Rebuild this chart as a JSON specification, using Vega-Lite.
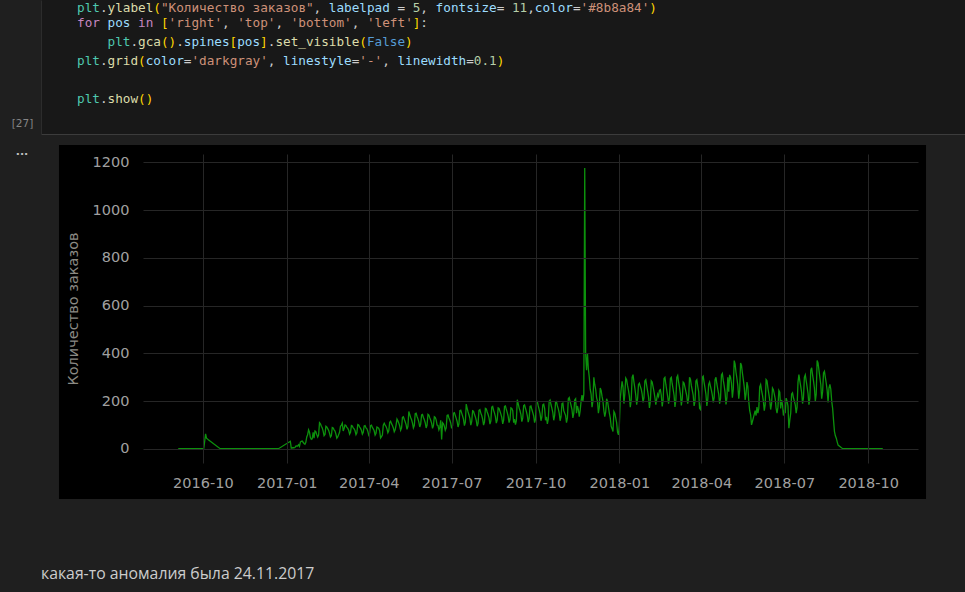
{
"$schema": "https://vega.github.io/schema/vega-lite/v6.json",
"background": "#1f1f1f",
"padding": {"left": 0, "top": 0, "right": 0, "bottom": 10},
"spacing": 0,
"config": {"view": {"stroke": null}, "font": "DejaVu Sans"},
"title": {"text": "какая-то аномалия была 24.11.2017", "orient": "bottom", "anchor": "start", "frame": "bounds", "dx": 41, "offset": 68, "font": "Open Sans", "fontSize": 15.8, "fontWeight": "normal", "color": "#cccccc"},
"vconcat": [
{
 "concat": [
  {
   "width": 41, "height": 144,
   "view": {"fill": "#1f1f1f", "stroke": null},
   "data": {"values": [{"label": "[27]", "line": 6.3}]},
   "mark": {"type": "text", "font": "DejaVu Sans", "fontSize": 10.5, "color": "#858585", "baseline": "middle", "align": "center", "dx": 2},
   "encoding": {
    "text": {"field": "label"},
    "y": {"field": "line", "type": "quantitative", "scale": {"domain": [-0.2368, 7.3421], "reverse": true, "nice": false, "zero": false}, "axis": null}
   }
  },
  {
   "width": 924, "height": 134,
   "view": {"fill": "#181818", "stroke": null},
   "data": {"values": [
    {"l":0.19,"c":0,"t":"plt","k":"mod"},{"l":0.19,"c":3,"t":".","k":"punc"},{"l":0.19,"c":4,"t":"ylabel","k":"fn"},{"l":0.19,"c":10,"t":"(","k":"br"},{"l":0.19,"c":11,"t":"\"Количество заказов\"","k":"str"},{"l":0.19,"c":31,"t":",","k":"punc"},{"l":0.19,"c":33,"t":"labelpad","k":"param"},{"l":0.19,"c":42,"t":"=","k":"punc"},{"l":0.19,"c":44,"t":"5","k":"num"},{"l":0.19,"c":45,"t":",","k":"punc"},{"l":0.19,"c":47,"t":"fontsize","k":"param"},{"l":0.19,"c":55,"t":"=","k":"punc"},{"l":0.19,"c":57,"t":"11","k":"num"},{"l":0.19,"c":59,"t":",","k":"punc"},{"l":0.19,"c":60,"t":"color","k":"param"},{"l":0.19,"c":65,"t":"=","k":"punc"},{"l":0.19,"c":66,"t":"'#8b8a84'","k":"str"},{"l":0.19,"c":75,"t":")","k":"br"},
    {"l":1,"c":0,"t":"for","k":"kw"},{"l":1,"c":4,"t":"pos","k":"var"},{"l":1,"c":8,"t":"in","k":"kw"},{"l":1,"c":11,"t":"[","k":"br"},{"l":1,"c":12,"t":"'right'","k":"str"},{"l":1,"c":19,"t":",","k":"punc"},{"l":1,"c":21,"t":"'top'","k":"str"},{"l":1,"c":26,"t":",","k":"punc"},{"l":1,"c":28,"t":"'bottom'","k":"str"},{"l":1,"c":36,"t":",","k":"punc"},{"l":1,"c":38,"t":"'left'","k":"str"},{"l":1,"c":44,"t":"]","k":"br"},{"l":1,"c":45,"t":":","k":"punc"},
    {"l":2,"c":4,"t":"plt","k":"mod"},{"l":2,"c":7,"t":".","k":"punc"},{"l":2,"c":8,"t":"gca","k":"fn"},{"l":2,"c":11,"t":"()","k":"br"},{"l":2,"c":13,"t":".","k":"punc"},{"l":2,"c":14,"t":"spines","k":"var"},{"l":2,"c":20,"t":"[","k":"br"},{"l":2,"c":21,"t":"pos","k":"var"},{"l":2,"c":24,"t":"]","k":"br"},{"l":2,"c":25,"t":".","k":"punc"},{"l":2,"c":26,"t":"set_visible","k":"fn"},{"l":2,"c":37,"t":"(","k":"br"},{"l":2,"c":38,"t":"False","k":"const"},{"l":2,"c":43,"t":")","k":"br"},
    {"l":3,"c":0,"t":"plt","k":"mod"},{"l":3,"c":3,"t":".","k":"punc"},{"l":3,"c":4,"t":"grid","k":"fn"},{"l":3,"c":8,"t":"(","k":"br"},{"l":3,"c":9,"t":"color","k":"param"},{"l":3,"c":14,"t":"=","k":"punc"},{"l":3,"c":15,"t":"'darkgray'","k":"str"},{"l":3,"c":25,"t":",","k":"punc"},{"l":3,"c":27,"t":"linestyle","k":"param"},{"l":3,"c":36,"t":"=","k":"punc"},{"l":3,"c":37,"t":"'-'","k":"str"},{"l":3,"c":40,"t":",","k":"punc"},{"l":3,"c":42,"t":"linewidth","k":"param"},{"l":3,"c":51,"t":"=","k":"punc"},{"l":3,"c":52,"t":"0.1","k":"num"},{"l":3,"c":55,"t":")","k":"br"},
    {"l":5,"c":0,"t":"plt","k":"mod"},{"l":5,"c":3,"t":".","k":"punc"},{"l":5,"c":4,"t":"show","k":"fn"},{"l":5,"c":8,"t":"()","k":"br"}
   ]},
   "mark": {"type": "text", "font": "DejaVu Sans Mono", "fontSize": 12.7, "align": "left", "baseline": "middle"},
   "encoding": {
    "x": {"field": "c", "type": "quantitative", "scale": {"domain": [-4.7182, 116.3827], "nice": false, "zero": false}, "axis": {"orient": "bottom", "domain": true, "domainColor": "#3c3c3c", "labels": false, "ticks": false, "grid": false, "title": null}},
    "y": {"field": "l", "type": "quantitative", "scale": {"domain": [-0.2368, 6.8158], "reverse": true, "nice": false, "zero": false}, "axis": {"orient": "left", "domain": true, "domainColor": "#2c2c2c", "labels": false, "ticks": false, "grid": false, "title": null}},
    "text": {"field": "t"},
    "color": {"field": "k", "type": "nominal", "legend": null, "scale": {"domain": ["mod","fn","punc","br","str","param","num","kw","var","const"], "range": ["#4ec9b0","#dcdcaa","#cccccc","#ffd700","#ce9178","#9cdcfe","#b5cea8","#c586c0","#9cdcfe","#569cd6"]}}
   }
  }
 ],
 "columns": 2, "align": "none", "spacing": 0
},
{
 "concat": [
  {
   "width": 44, "height": 1,
   "view": {"stroke": null},
   "data": {"values": [{"t": "..."}]},
   "mark": {"type": "text", "font": "DejaVu Sans", "fontSize": 11, "fontWeight": "bold", "color": "#c0c0c0", "align": "center", "baseline": "alphabetic"},
   "encoding": {"text": {"field": "t"}}
  },
  {
   "width": 775, "height": 309,
   "view": {"fill": "#000000", "stroke": null},
   "layer": [
    {
     "data": {"values": [{"part": "figure"}]},
     "mark": {"type": "rect", "color": "#000000"},
     "encoding": {
      "x": {"datum": {"year": 2016, "month": 4, "date": 26, "hours": 4, "utc": true}, "type": "temporal"},
      "x2": {"datum": {"year": 2018, "month": 12, "date": 3, "hours": 11, "utc": true}},
      "y": {"datum": 1272.5, "type": "quantitative"},
      "y2": {"datum": -209.5}
     }
    },
    {
     "data": {"values": [
{"d":"2016-09-04","n":1},{"d":"2016-09-05","n":1},{"d":"2016-09-13","n":1},{"d":"2016-09-15","n":1},{"d":"2016-10-02","n":1},{"d":"2016-10-04","n":63},{"d":"2016-10-05","n":45},{"d":"2016-10-06","n":42},{"d":"2016-10-07","n":38},{"d":"2016-10-20","n":1},{"d":"2016-12-23","n":1},
{"d":"2017-01-05","n":32},{"d":"2017-01-06","n":4},{"d":"2017-01-07","n":4},{"d":"2017-01-08","n":6},
{"d":"2017-01-09","n":5},{"d":"2017-01-10","n":6},{"d":"2017-01-11","n":12},{"d":"2017-01-12","n":13},{"d":"2017-01-13","n":12},{"d":"2017-01-14","n":18},{"d":"2017-01-15","n":11},
{"d":"2017-01-16","n":29},{"d":"2017-01-17","n":32},{"d":"2017-01-18","n":33},{"d":"2017-01-19","n":28},{"d":"2017-01-20","n":23},{"d":"2017-01-21","n":20},{"d":"2017-01-22","n":28},
{"d":"2017-01-23","n":50},{"d":"2017-01-24","n":60},{"d":"2017-01-25","n":80},{"d":"2017-01-26","n":70},{"d":"2017-01-27","n":48},{"d":"2017-01-28","n":40},{"d":"2017-01-29","n":42},
{"d":"2017-01-30","n":70},{"d":"2017-01-31","n":45},{"d":"2017-02-01","n":75},{"d":"2017-02-02","n":72},{"d":"2017-02-03","n":60},{"d":"2017-02-04","n":50},{"d":"2017-02-05","n":58},
{"d":"2017-02-06","n":110},{"d":"2017-02-07","n":105},{"d":"2017-02-08","n":95},{"d":"2017-02-09","n":88},{"d":"2017-02-10","n":75},{"d":"2017-02-11","n":55},{"d":"2017-02-12","n":60},
{"d":"2017-02-13","n":95},{"d":"2017-02-14","n":92},{"d":"2017-02-15","n":85},{"d":"2017-02-16","n":78},{"d":"2017-02-17","n":65},{"d":"2017-02-18","n":50},{"d":"2017-02-19","n":55},
{"d":"2017-02-20","n":90},{"d":"2017-02-21","n":88},{"d":"2017-02-22","n":80},{"d":"2017-02-23","n":75},{"d":"2017-02-24","n":62},{"d":"2017-02-25","n":45},{"d":"2017-02-26","n":50},
{"d":"2017-02-27","n":60},{"d":"2017-02-28","n":70},{"d":"2017-03-01","n":95},{"d":"2017-03-02","n":100},{"d":"2017-03-03","n":108},{"d":"2017-03-04","n":75},{"d":"2017-03-05","n":85},
{"d":"2017-03-06","n":100},{"d":"2017-03-07","n":98},{"d":"2017-03-08","n":90},{"d":"2017-03-09","n":86},{"d":"2017-03-10","n":78},{"d":"2017-03-11","n":62},{"d":"2017-03-12","n":70},
{"d":"2017-03-13","n":98},{"d":"2017-03-14","n":96},{"d":"2017-03-15","n":88},{"d":"2017-03-16","n":84},{"d":"2017-03-17","n":76},{"d":"2017-03-18","n":60},{"d":"2017-03-19","n":68},
{"d":"2017-03-20","n":102},{"d":"2017-03-21","n":100},{"d":"2017-03-22","n":92},{"d":"2017-03-23","n":86},{"d":"2017-03-24","n":78},{"d":"2017-03-25","n":62},{"d":"2017-03-26","n":70},
{"d":"2017-03-27","n":96},{"d":"2017-03-28","n":98},{"d":"2017-03-29","n":88},{"d":"2017-03-30","n":84},{"d":"2017-03-31","n":74},{"d":"2017-04-01","n":58},{"d":"2017-04-02","n":66},
{"d":"2017-04-03","n":98},{"d":"2017-04-04","n":100},{"d":"2017-04-05","n":90},{"d":"2017-04-06","n":84},{"d":"2017-04-07","n":76},{"d":"2017-04-08","n":58},{"d":"2017-04-09","n":66},
{"d":"2017-04-10","n":92},{"d":"2017-04-11","n":90},{"d":"2017-04-12","n":86},{"d":"2017-04-13","n":76},{"d":"2017-04-14","n":46},{"d":"2017-04-15","n":52},{"d":"2017-04-16","n":58},
{"d":"2017-04-17","n":100},{"d":"2017-04-18","n":108},{"d":"2017-04-19","n":100},{"d":"2017-04-20","n":94},{"d":"2017-04-21","n":84},{"d":"2017-04-22","n":68},{"d":"2017-04-23","n":76},
{"d":"2017-04-24","n":112},{"d":"2017-04-25","n":116},{"d":"2017-04-26","n":106},{"d":"2017-04-27","n":98},{"d":"2017-04-28","n":88},{"d":"2017-04-29","n":72},{"d":"2017-04-30","n":80},
{"d":"2017-05-01","n":100},{"d":"2017-05-02","n":125},{"d":"2017-05-03","n":118},{"d":"2017-05-04","n":108},{"d":"2017-05-05","n":96},{"d":"2017-05-06","n":78},{"d":"2017-05-07","n":88},
{"d":"2017-05-08","n":132},{"d":"2017-05-09","n":135},{"d":"2017-05-10","n":124},{"d":"2017-05-11","n":114},{"d":"2017-05-12","n":102},{"d":"2017-05-13","n":82},{"d":"2017-05-14","n":94},
{"d":"2017-05-15","n":157},{"d":"2017-05-16","n":145},{"d":"2017-05-17","n":132},{"d":"2017-05-18","n":122},{"d":"2017-05-19","n":108},{"d":"2017-05-20","n":88},{"d":"2017-05-21","n":98},
{"d":"2017-05-22","n":148},{"d":"2017-05-23","n":150},{"d":"2017-05-24","n":136},{"d":"2017-05-25","n":126},{"d":"2017-05-26","n":112},{"d":"2017-05-27","n":92},{"d":"2017-05-28","n":104},
{"d":"2017-05-29","n":142},{"d":"2017-05-30","n":144},{"d":"2017-05-31","n":132},{"d":"2017-06-01","n":122},{"d":"2017-06-02","n":110},{"d":"2017-06-03","n":88},{"d":"2017-06-04","n":100},
{"d":"2017-06-05","n":145},{"d":"2017-06-06","n":142},{"d":"2017-06-07","n":130},{"d":"2017-06-08","n":120},{"d":"2017-06-09","n":108},{"d":"2017-06-10","n":86},{"d":"2017-06-11","n":98},
{"d":"2017-06-12","n":135},{"d":"2017-06-13","n":132},{"d":"2017-06-14","n":122},{"d":"2017-06-15","n":100},{"d":"2017-06-16","n":98},{"d":"2017-06-17","n":80},{"d":"2017-06-18","n":90},
{"d":"2017-06-19","n":120},{"d":"2017-06-20","n":40},{"d":"2017-06-21","n":110},{"d":"2017-06-22","n":105},{"d":"2017-06-23","n":95},{"d":"2017-06-24","n":78},{"d":"2017-06-25","n":88},
{"d":"2017-06-26","n":140},{"d":"2017-06-27","n":142},{"d":"2017-06-28","n":130},{"d":"2017-06-29","n":120},{"d":"2017-06-30","n":108},{"d":"2017-07-01","n":86},{"d":"2017-07-02","n":98},
{"d":"2017-07-03","n":150},{"d":"2017-07-04","n":152},{"d":"2017-07-05","n":140},{"d":"2017-07-06","n":128},{"d":"2017-07-07","n":115},{"d":"2017-07-08","n":92},{"d":"2017-07-09","n":105},
{"d":"2017-07-10","n":160},{"d":"2017-07-11","n":162},{"d":"2017-07-12","n":150},{"d":"2017-07-13","n":138},{"d":"2017-07-14","n":124},{"d":"2017-07-15","n":98},{"d":"2017-07-16","n":112},
{"d":"2017-07-17","n":188},{"d":"2017-07-18","n":170},{"d":"2017-07-19","n":155},{"d":"2017-07-20","n":142},{"d":"2017-07-21","n":128},{"d":"2017-07-22","n":100},{"d":"2017-07-23","n":115},
{"d":"2017-07-24","n":160},{"d":"2017-07-25","n":158},{"d":"2017-07-26","n":145},{"d":"2017-07-27","n":134},{"d":"2017-07-28","n":120},{"d":"2017-07-29","n":95},{"d":"2017-07-30","n":108},
{"d":"2017-07-31","n":162},{"d":"2017-08-01","n":165},{"d":"2017-08-02","n":150},{"d":"2017-08-03","n":140},{"d":"2017-08-04","n":125},{"d":"2017-08-05","n":100},{"d":"2017-08-06","n":112},
{"d":"2017-08-07","n":170},{"d":"2017-08-08","n":168},{"d":"2017-08-09","n":155},{"d":"2017-08-10","n":144},{"d":"2017-08-11","n":130},{"d":"2017-08-12","n":104},{"d":"2017-08-13","n":118},
{"d":"2017-08-14","n":175},{"d":"2017-08-15","n":178},{"d":"2017-08-16","n":162},{"d":"2017-08-17","n":150},{"d":"2017-08-18","n":135},{"d":"2017-08-19","n":108},{"d":"2017-08-20","n":122},
{"d":"2017-08-21","n":172},{"d":"2017-08-22","n":170},{"d":"2017-08-23","n":158},{"d":"2017-08-24","n":146},{"d":"2017-08-25","n":132},{"d":"2017-08-26","n":105},{"d":"2017-08-27","n":120},
{"d":"2017-08-28","n":178},{"d":"2017-08-29","n":180},{"d":"2017-08-30","n":165},{"d":"2017-08-31","n":152},{"d":"2017-09-01","n":136},{"d":"2017-09-02","n":110},{"d":"2017-09-03","n":124},
{"d":"2017-09-04","n":172},{"d":"2017-09-05","n":170},{"d":"2017-09-06","n":160},{"d":"2017-09-07","n":110},{"d":"2017-09-08","n":125},{"d":"2017-09-09","n":102},{"d":"2017-09-10","n":118},
{"d":"2017-09-11","n":206},{"d":"2017-09-12","n":190},{"d":"2017-09-13","n":172},{"d":"2017-09-14","n":160},{"d":"2017-09-15","n":144},{"d":"2017-09-16","n":114},{"d":"2017-09-17","n":130},
{"d":"2017-09-18","n":182},{"d":"2017-09-19","n":185},{"d":"2017-09-20","n":170},{"d":"2017-09-21","n":156},{"d":"2017-09-22","n":140},{"d":"2017-09-23","n":112},{"d":"2017-09-24","n":128},
{"d":"2017-09-25","n":178},{"d":"2017-09-26","n":180},{"d":"2017-09-27","n":165},{"d":"2017-09-28","n":152},{"d":"2017-09-29","n":138},{"d":"2017-09-30","n":110},{"d":"2017-10-01","n":125},
{"d":"2017-10-02","n":195},{"d":"2017-10-03","n":198},{"d":"2017-10-04","n":180},{"d":"2017-10-05","n":165},{"d":"2017-10-06","n":148},{"d":"2017-10-07","n":118},{"d":"2017-10-08","n":135},
{"d":"2017-10-09","n":185},{"d":"2017-10-10","n":188},{"d":"2017-10-11","n":170},{"d":"2017-10-12","n":120},{"d":"2017-10-13","n":135},{"d":"2017-10-14","n":105},{"d":"2017-10-15","n":125},
{"d":"2017-10-16","n":200},{"d":"2017-10-17","n":205},{"d":"2017-10-18","n":185},{"d":"2017-10-19","n":170},{"d":"2017-10-20","n":152},{"d":"2017-10-21","n":120},{"d":"2017-10-22","n":140},
{"d":"2017-10-23","n":195},{"d":"2017-10-24","n":198},{"d":"2017-10-25","n":180},{"d":"2017-10-26","n":168},{"d":"2017-10-27","n":150},{"d":"2017-10-28","n":118},{"d":"2017-10-29","n":135},
{"d":"2017-10-30","n":190},{"d":"2017-10-31","n":192},{"d":"2017-11-01","n":160},{"d":"2017-11-02","n":150},{"d":"2017-11-03","n":140},{"d":"2017-11-04","n":110},{"d":"2017-11-05","n":130},
{"d":"2017-11-06","n":210},{"d":"2017-11-07","n":215},{"d":"2017-11-08","n":198},{"d":"2017-11-09","n":182},{"d":"2017-11-10","n":165},{"d":"2017-11-11","n":130},{"d":"2017-11-12","n":150},
{"d":"2017-11-13","n":205},{"d":"2017-11-14","n":210},{"d":"2017-11-15","n":150},{"d":"2017-11-16","n":180},{"d":"2017-11-17","n":165},{"d":"2017-11-18","n":135},{"d":"2017-11-19","n":160},
{"d":"2017-11-20","n":200},{"d":"2017-11-21","n":225},{"d":"2017-11-22","n":200},{"d":"2017-11-23","n":230},{"d":"2017-11-24","n":1176},{"d":"2017-11-25","n":400},{"d":"2017-11-26","n":330},
{"d":"2017-11-27","n":400},{"d":"2017-11-28","n":335},{"d":"2017-11-29","n":300},{"d":"2017-11-30","n":250},{"d":"2017-12-01","n":230},{"d":"2017-12-02","n":175},{"d":"2017-12-03","n":200},
{"d":"2017-12-04","n":300},{"d":"2017-12-05","n":270},{"d":"2017-12-06","n":250},{"d":"2017-12-07","n":215},{"d":"2017-12-08","n":200},{"d":"2017-12-09","n":150},{"d":"2017-12-10","n":175},
{"d":"2017-12-11","n":255},{"d":"2017-12-12","n":245},{"d":"2017-12-13","n":220},{"d":"2017-12-14","n":200},{"d":"2017-12-15","n":160},{"d":"2017-12-16","n":135},{"d":"2017-12-17","n":155},
{"d":"2017-12-18","n":210},{"d":"2017-12-19","n":200},{"d":"2017-12-20","n":175},{"d":"2017-12-21","n":150},{"d":"2017-12-22","n":130},{"d":"2017-12-23","n":95},{"d":"2017-12-24","n":85},
{"d":"2017-12-25","n":73},{"d":"2017-12-26","n":157},{"d":"2017-12-27","n":150},{"d":"2017-12-28","n":130},{"d":"2017-12-29","n":110},{"d":"2017-12-30","n":70},{"d":"2017-12-31","n":59},
{"d":"2018-01-01","n":100},{"d":"2018-01-02","n":213},{"d":"2018-01-03","n":250},{"d":"2018-01-04","n":283},{"d":"2018-01-05","n":260},{"d":"2018-01-06","n":190},{"d":"2018-01-07","n":230},
{"d":"2018-01-08","n":297},{"d":"2018-01-09","n":290},{"d":"2018-01-10","n":265},{"d":"2018-01-11","n":245},{"d":"2018-01-12","n":220},{"d":"2018-01-13","n":175},{"d":"2018-01-14","n":205},
{"d":"2018-01-15","n":300},{"d":"2018-01-16","n":311},{"d":"2018-01-17","n":280},{"d":"2018-01-18","n":255},{"d":"2018-01-19","n":225},{"d":"2018-01-20","n":185},{"d":"2018-01-21","n":210},
{"d":"2018-01-22","n":270},{"d":"2018-01-23","n":275},{"d":"2018-01-24","n":262},{"d":"2018-01-25","n":250},{"d":"2018-01-26","n":230},{"d":"2018-01-27","n":195},{"d":"2018-01-28","n":215},
{"d":"2018-01-29","n":285},{"d":"2018-01-30","n":290},{"d":"2018-01-31","n":265},{"d":"2018-02-01","n":242},{"d":"2018-02-02","n":218},{"d":"2018-02-03","n":172},{"d":"2018-02-04","n":198},
{"d":"2018-02-05","n":285},{"d":"2018-02-06","n":280},{"d":"2018-02-07","n":260},{"d":"2018-02-08","n":240},{"d":"2018-02-09","n":215},{"d":"2018-02-10","n":185},{"d":"2018-02-11","n":210},
{"d":"2018-02-12","n":230},{"d":"2018-02-13","n":220},{"d":"2018-02-14","n":245},{"d":"2018-02-15","n":248},{"d":"2018-02-16","n":225},{"d":"2018-02-17","n":178},{"d":"2018-02-18","n":205},
{"d":"2018-02-19","n":295},{"d":"2018-02-20","n":300},{"d":"2018-02-21","n":270},{"d":"2018-02-22","n":245},{"d":"2018-02-23","n":220},{"d":"2018-02-24","n":190},{"d":"2018-02-25","n":215},
{"d":"2018-02-26","n":295},{"d":"2018-02-27","n":300},{"d":"2018-02-28","n":272},{"d":"2018-03-01","n":250},{"d":"2018-03-02","n":225},{"d":"2018-03-03","n":176},{"d":"2018-03-04","n":205},
{"d":"2018-03-05","n":300},{"d":"2018-03-06","n":308},{"d":"2018-03-07","n":280},{"d":"2018-03-08","n":258},{"d":"2018-03-09","n":230},{"d":"2018-03-10","n":182},{"d":"2018-03-11","n":210},
{"d":"2018-03-12","n":280},{"d":"2018-03-13","n":276},{"d":"2018-03-14","n":258},{"d":"2018-03-15","n":240},{"d":"2018-03-16","n":222},{"d":"2018-03-17","n":190},{"d":"2018-03-18","n":212},
{"d":"2018-03-19","n":300},{"d":"2018-03-20","n":292},{"d":"2018-03-21","n":265},{"d":"2018-03-22","n":245},{"d":"2018-03-23","n":225},{"d":"2018-03-24","n":180},{"d":"2018-03-25","n":200},
{"d":"2018-03-26","n":285},{"d":"2018-03-27","n":290},{"d":"2018-03-28","n":262},{"d":"2018-03-29","n":240},{"d":"2018-03-30","n":170},{"d":"2018-03-31","n":165},{"d":"2018-04-01","n":195},
{"d":"2018-04-02","n":300},{"d":"2018-04-03","n":305},{"d":"2018-04-04","n":278},{"d":"2018-04-05","n":255},{"d":"2018-04-06","n":228},{"d":"2018-04-07","n":180},{"d":"2018-04-08","n":208},
{"d":"2018-04-09","n":270},{"d":"2018-04-10","n":280},{"d":"2018-04-11","n":262},{"d":"2018-04-12","n":245},{"d":"2018-04-13","n":225},{"d":"2018-04-14","n":195},{"d":"2018-04-15","n":215},
{"d":"2018-04-16","n":290},{"d":"2018-04-17","n":300},{"d":"2018-04-18","n":272},{"d":"2018-04-19","n":250},{"d":"2018-04-20","n":230},{"d":"2018-04-21","n":190},{"d":"2018-04-22","n":212},
{"d":"2018-04-23","n":310},{"d":"2018-04-24","n":316},{"d":"2018-04-25","n":288},{"d":"2018-04-26","n":265},{"d":"2018-04-27","n":236},{"d":"2018-04-28","n":186},{"d":"2018-04-29","n":215},
{"d":"2018-04-30","n":300},{"d":"2018-05-01","n":240},{"d":"2018-05-02","n":310},{"d":"2018-05-03","n":300},{"d":"2018-05-04","n":275},{"d":"2018-05-05","n":215},{"d":"2018-05-06","n":250},
{"d":"2018-05-07","n":370},{"d":"2018-05-08","n":355},{"d":"2018-05-09","n":320},{"d":"2018-05-10","n":295},{"d":"2018-05-11","n":265},{"d":"2018-05-12","n":210},{"d":"2018-05-13","n":245},
{"d":"2018-05-14","n":360},{"d":"2018-05-15","n":350},{"d":"2018-05-16","n":318},{"d":"2018-05-17","n":290},{"d":"2018-05-18","n":260},{"d":"2018-05-19","n":205},{"d":"2018-05-20","n":230},
{"d":"2018-05-21","n":280},{"d":"2018-05-22","n":260},{"d":"2018-05-23","n":199},{"d":"2018-05-24","n":160},{"d":"2018-05-25","n":143},{"d":"2018-05-26","n":101},{"d":"2018-05-27","n":115},
{"d":"2018-05-28","n":130},{"d":"2018-05-29","n":145},{"d":"2018-05-30","n":160},{"d":"2018-05-31","n":140},{"d":"2018-06-01","n":175},{"d":"2018-06-02","n":150},{"d":"2018-06-03","n":170},
{"d":"2018-06-04","n":260},{"d":"2018-06-05","n":270},{"d":"2018-06-06","n":245},{"d":"2018-06-07","n":225},{"d":"2018-06-08","n":200},{"d":"2018-06-09","n":160},{"d":"2018-06-10","n":185},
{"d":"2018-06-11","n":290},{"d":"2018-06-12","n":285},{"d":"2018-06-13","n":255},{"d":"2018-06-14","n":230},{"d":"2018-06-15","n":205},{"d":"2018-06-16","n":165},{"d":"2018-06-17","n":190},
{"d":"2018-06-18","n":255},{"d":"2018-06-19","n":248},{"d":"2018-06-20","n":230},{"d":"2018-06-21","n":210},{"d":"2018-06-22","n":170},{"d":"2018-06-23","n":150},{"d":"2018-06-24","n":175},
{"d":"2018-06-25","n":245},{"d":"2018-06-26","n":238},{"d":"2018-06-27","n":170},{"d":"2018-06-28","n":205},{"d":"2018-06-29","n":185},{"d":"2018-06-30","n":140},{"d":"2018-07-01","n":160},
{"d":"2018-07-02","n":150},{"d":"2018-07-03","n":213},{"d":"2018-07-04","n":200},{"d":"2018-07-05","n":180},{"d":"2018-07-06","n":87},{"d":"2018-07-07","n":120},{"d":"2018-07-08","n":150},
{"d":"2018-07-09","n":230},{"d":"2018-07-10","n":235},{"d":"2018-07-11","n":215},{"d":"2018-07-12","n":200},{"d":"2018-07-13","n":185},{"d":"2018-07-14","n":150},{"d":"2018-07-15","n":175},
{"d":"2018-07-16","n":280},{"d":"2018-07-17","n":311},{"d":"2018-07-18","n":285},{"d":"2018-07-19","n":262},{"d":"2018-07-20","n":236},{"d":"2018-07-21","n":190},{"d":"2018-07-22","n":215},
{"d":"2018-07-23","n":300},{"d":"2018-07-24","n":310},{"d":"2018-07-25","n":285},{"d":"2018-07-26","n":260},{"d":"2018-07-27","n":232},{"d":"2018-07-28","n":185},{"d":"2018-07-29","n":212},
{"d":"2018-07-30","n":330},{"d":"2018-07-31","n":340},{"d":"2018-08-01","n":310},{"d":"2018-08-02","n":285},{"d":"2018-08-03","n":255},{"d":"2018-08-04","n":200},{"d":"2018-08-05","n":230},
{"d":"2018-08-06","n":370},{"d":"2018-08-07","n":360},{"d":"2018-08-08","n":330},{"d":"2018-08-09","n":300},{"d":"2018-08-10","n":270},{"d":"2018-08-11","n":210},{"d":"2018-08-12","n":240},
{"d":"2018-08-13","n":318},{"d":"2018-08-14","n":325},{"d":"2018-08-15","n":300},{"d":"2018-08-16","n":275},{"d":"2018-08-17","n":245},{"d":"2018-08-18","n":195},{"d":"2018-08-19","n":255},
{"d":"2018-08-20","n":270},{"d":"2018-08-21","n":250},{"d":"2018-08-22","n":199},{"d":"2018-08-23","n":170},{"d":"2018-08-24","n":120},{"d":"2018-08-25","n":73},{"d":"2018-08-26","n":55},
{"d":"2018-08-27","n":45},{"d":"2018-08-28","n":30},{"d":"2018-08-29","n":16},
{"d":"2018-09-03","n":1},{"d":"2018-09-06","n":1},{"d":"2018-09-13","n":1},{"d":"2018-09-17","n":1},{"d":"2018-09-29","n":1},{"d":"2018-10-01","n":1},{"d":"2018-10-03","n":1},{"d":"2018-10-16","n":1},{"d":"2018-10-17","n":1}
     ]},
     "mark": {"type": "line", "color": "#0c910c", "strokeWidth": 1.3},
     "encoding": {
      "x": {"field": "d", "type": "temporal",
       "scale": {"type": "utc", "domain": [{"year": 2016, "month": 7, "date": 27, "hours": 8, "utc": true}, {"year": 2018, "month": 11, "date": 24, "hours": 16, "utc": true}], "nice": false},
       "axis": {"title": null, "format": "%Y-%m", "tickCount": {"interval": "month", "step": 3}, "labelColor": "#a0a0a0", "labelFont": "DejaVu Sans", "labelFontSize": 14.5, "labelPadding": 13, "labelFlush": false, "labelOverlap": false, "domain": false, "ticks": false, "tickSize": 0, "grid": true, "gridColor": "#262626", "gridWidth": 1, "zindex": 1}},
      "y": {"field": "n", "type": "quantitative",
       "scale": {"domain": [-58.8, 1234.8], "nice": false, "zero": false},
       "axis": {"title": "Количество заказов", "titleColor": "#8b8a84", "titleFont": "DejaVu Sans", "titleFontSize": 14.5, "titleFontWeight": "normal", "titlePadding": 12, "values": [0, 200, 400, 600, 800, 1000, 1200], "format": "d", "labelColor": "#a0a0a0", "labelFont": "DejaVu Sans", "labelFontSize": 14.5, "labelPadding": 14, "domain": false, "ticks": false, "tickSize": 0, "grid": true, "gridColor": "#262626", "gridWidth": 1, "zindex": 1}}
     }
    }
   ]
  }
 ],
 "columns": 2, "align": "none", "spacing": 14
}
]
}
